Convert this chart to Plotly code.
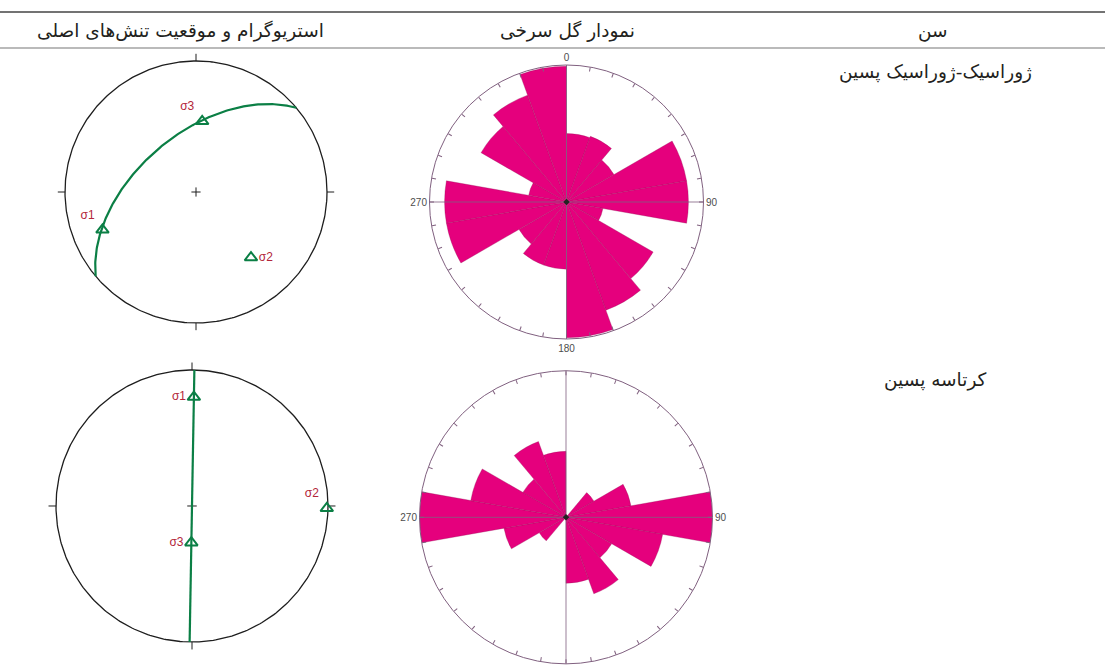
import numpy as np
import plotly.graph_objects as go

W, H = 1105, 671

# ---------------- text ----------------
header_titles = ["استریوگرام و موقعیت تنش\u200cهای اصلی", "نمودار گل سرخی", "سن"]
age_labels = ["ژوراسیک-ژوراسیک پسین", "کرتاسه پسین"]
axis_names = ["σ1", "σ2", "σ3"]

# ---------------- stereogram data (trend, plunge in degrees) ----------------
s1_trend = [248, 1]
s1_plunge = [24, 21]
s2_trend = [140, 91]
s2_plunge = [35, 1]
s3_trend = [5, 181]
s3_plunge = [45, 68]
plane_dipdir = [320, 271]
plane_dip = [54, 90]

# ---------------- rose diagram data (20 degree bins, relative length) ----------------
rose_bin_start = list(range(0, 360, 20))
rose_jurassic = [0.50, 0.51, 0.40, 0.89, 0.89, 0.27, 0.73, 0.84, 0.99,
                 0.49, 0.49, 0.40, 0.89, 0.89, 0.28, 0.72, 0.83, 0.99]
rose_cretaceous = [0.0, 0.0, 0.22, 0.45, 1.00, 0.67, 0.36, 0.555, 0.45,
                   0.0, 0.0, 0.21, 0.43, 1.00, 0.66, 0.34, 0.55, 0.45]
rose_labels = [["0", "90", "180", "270"], ["", "90", "", "270"]]

# ---------------- layout geometry (pixels) ----------------
stereo_px = [(196, 192, 131), (192, 506, 136)]
rose_px = [(566.5, 202, 137), (566, 517.3, 146.5)]
HW = 1.2

GREEN = "#0b7f45"
RED = "#b3263a"
PINK = "#e5007d"
PURPLE = "#80607f"


def project(trend, plunge):
    t = np.radians(np.asarray(trend, dtype=float))
    p = np.radians(np.asarray(plunge, dtype=float))
    r = np.sqrt(2) * np.sin((np.pi / 2 - p) / 2)
    return r * np.sin(t), r * np.cos(t)


def great_circle(dipdir, dip):
    dd = np.radians(dipdir)
    dp = np.radians(dip)
    s = np.array([np.sin(dd - np.pi / 2), np.cos(dd - np.pi / 2), 0.0])
    d = np.array([np.cos(dp) * np.sin(dd), np.cos(dp) * np.cos(dd), np.sin(dp)])
    t = np.radians(np.linspace(0, 180, 181))[:, None]
    v = np.cos(t) * s + np.sin(t) * d
    plunge = np.degrees(np.arcsin(np.clip(v[:, 2], -1, 1)))
    trend = np.degrees(np.arctan2(v[:, 0], v[:, 1]))
    return project(trend, plunge)


fig = go.Figure()
layout_axes = {}

# ---------------- stereograms ----------------
for i in range(2):
    cx, cy, R = stereo_px[i]
    xa = "x" if i == 0 else f"x{i+1}"
    ya = "y" if i == 0 else f"y{i+1}"
    xkey = "xaxis" if i == 0 else f"xaxis{i+1}"
    ykey = "yaxis" if i == 0 else f"yaxis{i+1}"
    layout_axes[xkey] = dict(domain=[(cx - HW * R) / W, (cx + HW * R) / W], range=[-HW, HW],
                             visible=False, fixedrange=True)
    layout_axes[ykey] = dict(domain=[(H - cy - HW * R) / H, (H - cy + HW * R) / H], range=[-HW, HW],
                             visible=False, fixedrange=True)

    th = np.linspace(0, 2 * np.pi, 361)
    fig.add_trace(go.Scatter(x=np.cos(th), y=np.sin(th), mode="lines",
                             line=dict(color="#1e1e1e", width=1.3), xaxis=xa, yaxis=ya,
                             hoverinfo="skip", showlegend=False))
    # primitive ticks and centre cross
    tx, ty = [], []
    for az in [0, 90, 180, 270]:
        a = np.radians(az)
        tx += [np.sin(a) * 1.0, np.sin(a) * 1.055, None]
        ty += [np.cos(a) * 1.0, np.cos(a) * 1.055, None]
    tx += [-0.035, 0.035, None, 0, 0]
    ty += [0, 0, None, -0.035, 0.035]
    fig.add_trace(go.Scatter(x=tx, y=ty, mode="lines", line=dict(color="#1e1e1e", width=1),
                             xaxis=xa, yaxis=ya, hoverinfo="skip", showlegend=False))

    gx, gy = great_circle(plane_dipdir[i], plane_dip[i])
    fig.add_trace(go.Scatter(x=gx, y=gy, mode="lines", line=dict(color=GREEN, width=2.2),
                             xaxis=xa, yaxis=ya, hoverinfo="skip", showlegend=False))

    px_, py_ = project([s1_trend[i], s2_trend[i], s3_trend[i]],
                       [s1_plunge[i], s2_plunge[i], s3_plunge[i]])
    textpos = ["top left", "middle right", "top left"] if i == 0 else ["middle left", "top left", "middle left"]
    fig.add_trace(go.Scatter(x=px_, y=py_, mode="markers+text", text=axis_names,
                             textposition=textpos,
                             textfont=dict(family="Liberation Sans, Arial", size=12, color=RED),
                             marker=dict(symbol="triangle-up-open", size=11, color=GREEN,
                                         line=dict(width=2, color=GREEN)),
                             xaxis=xa, yaxis=ya, hoverinfo="skip", showlegend=False))

# ---------------- rose diagrams ----------------
rose_data = [rose_jurassic, rose_cretaceous]
for i in range(2):
    cx, cy, R = rose_px[i]
    pk = "polar" if i == 0 else f"polar{i+1}"
    tickvals = list(range(0, 360, 10))
    ticktext = []
    for v in tickvals:
        if v % 90 == 0:
            ticktext.append(rose_labels[i][v // 90])
        else:
            ticktext.append("")
    layout_axes[pk] = dict(
        domain=dict(x=[(cx - R) / W, (cx + R) / W], y=[(H - cy - R) / H, (H - cy + R) / H]),
        bgcolor="white",
        radialaxis=dict(range=[0, 1], visible=False),
        angularaxis=dict(rotation=90, direction="clockwise", tickmode="array",
                         tickvals=tickvals, ticktext=ticktext, ticks="inside", ticklen=4,
                         tickcolor=PURPLE, linecolor=PURPLE, linewidth=1, showgrid=False,
                         tickfont=dict(family="Liberation Sans, Arial", size=10, color="#4d4d4d")),
    )
    fig.add_trace(go.Barpolar(r=rose_data[i], theta=[b + 10 for b in rose_bin_start], width=20,
                              marker=dict(color=PINK, line=dict(color="rgba(150,20,90,0.55)", width=0.6)),
                              subplot=pk, hoverinfo="skip", showlegend=False))
    fig.add_trace(go.Scatterpolar(r=[1.04, 0, 1.04, None, 1.04, 0, 1.04],
                                  theta=[0, 0, 180, None, 90, 90, 270], mode="lines",
                                  line=dict(color="rgba(128,96,127,0.8)", width=1), cliponaxis=False,
                                  subplot=pk, hoverinfo="skip", showlegend=False))
    fig.add_trace(go.Scatterpolar(r=[0], theta=[0], mode="markers",
                                  marker=dict(color="#222", size=5, symbol="diamond"),
                                  subplot=pk, hoverinfo="skip", showlegend=False))

# ---------------- table lines and text ----------------
shapes = [
    dict(type="line", xref="paper", yref="paper", x0=0, x1=1, y0=1 - 12 / H, y1=1 - 12 / H,
         line=dict(color="#444", width=1.3)),
    dict(type="line", xref="paper", yref="paper", x0=0, x1=1, y0=1 - 48 / H, y1=1 - 48 / H,
         line=dict(color="#777", width=1.2)),
]
annotations = []
header_x = [180, 567, 933]
for t, x in zip(header_titles, header_x):
    annotations.append(dict(text=t, x=x / W, y=1 - 31 / H, xref="paper", yref="paper",
                            showarrow=False, xanchor="center", yanchor="middle",
                            font=dict(family="DejaVu Sans", size=18.5, color="#231f20")))
age_y = [72, 380]
for t, y in zip(age_labels, age_y):
    annotations.append(dict(text=t, x=935 / W, y=1 - y / H, xref="paper", yref="paper",
                            showarrow=False, xanchor="center", yanchor="middle",
                            font=dict(family="DejaVu Sans", size=18.5, color="#231f20")))

fig.update_layout(width=W, height=H, margin=dict(l=0, r=0, t=0, b=0), autosize=False,
                  paper_bgcolor="white", plot_bgcolor="white", shapes=shapes,
                  annotations=annotations, showlegend=False, **layout_axes)

fig.write_html("out.html", config={"displayModeBar": False},
               post_script="document.body.style.margin='0';document.body.style.overflow='hidden';")
